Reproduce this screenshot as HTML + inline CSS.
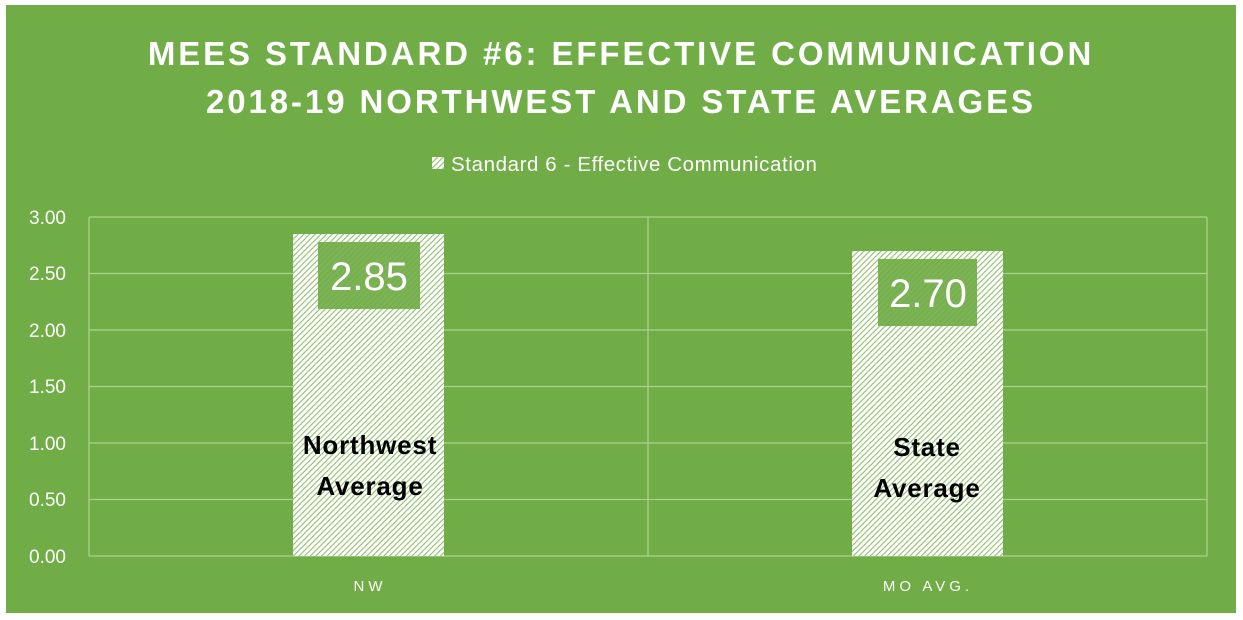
<!DOCTYPE html>
<html><head><meta charset="utf-8"><style>
html,body{margin:0;padding:0;background:#fff;}
svg{display:block;}
text{font-family:"Liberation Sans",sans-serif;}
</style></head><body>
<svg width="1243" height="620" xmlns="http://www.w3.org/2000/svg">
<defs>
<pattern id="h" patternUnits="userSpaceOnUse" width="4" height="4" patternTransform="rotate(45)">
<rect width="4" height="4" fill="#fff"/>
<rect width="1.1" height="4" fill="#8fbf6c"/>
</pattern>
</defs>
<rect x="6" y="5" width="1230" height="608" fill="#70ad47"/>
<text x="621" y="65" text-anchor="middle" fill="#fff" font-size="33" font-weight="bold" letter-spacing="2.9">MEES STANDARD #6: EFFECTIVE COMMUNICATION</text>
<text x="621" y="113" text-anchor="middle" fill="#fff" font-size="33" font-weight="bold" letter-spacing="2.9">2018-19 NORTHWEST AND STATE AVERAGES</text>
<rect x="432" y="157" width="12" height="12" fill="url(#h)"/>
<text x="451" y="171" fill="#fff" font-size="20.5" letter-spacing="0.6">Standard 6 - Effective Communication</text>
<g stroke="#a9d18e" stroke-width="1.3">
<line x1="89" y1="217" x2="1207" y2="217"/>
<line x1="89" y1="273.5" x2="1207" y2="273.5"/>
<line x1="89" y1="330" x2="1207" y2="330"/>
<line x1="89" y1="386.5" x2="1207" y2="386.5"/>
<line x1="89" y1="443" x2="1207" y2="443"/>
<line x1="89" y1="499.5" x2="1207" y2="499.5"/>
<line x1="89" y1="556" x2="1207" y2="556"/>
<line x1="89" y1="217" x2="89" y2="556"/>
<line x1="648" y1="217" x2="648" y2="556"/>
<line x1="1207" y1="217" x2="1207" y2="556"/>
</g>
<g fill="#fff" font-size="19" text-anchor="end">
<text x="66" y="224">3.00</text>
<text x="66" y="280">2.50</text>
<text x="66" y="337">2.00</text>
<text x="66" y="393">1.50</text>
<text x="66" y="450">1.00</text>
<text x="66" y="506">0.50</text>
<text x="66" y="563">0.00</text>
</g>
<rect x="293" y="234" width="151" height="322" fill="url(#h)"/>
<rect x="852" y="251" width="151" height="305" fill="url(#h)"/>
<rect x="318" y="242" width="102" height="67" fill="#70ad47" opacity="0.92"/>
<rect x="878" y="259" width="99" height="67" fill="#70ad47" opacity="0.92"/>
<text x="369" y="290" text-anchor="middle" fill="#fff" font-size="40">2.85</text>
<text x="928" y="307" text-anchor="middle" fill="#fff" font-size="40">2.70</text>
<g font-size="26" font-weight="bold" fill="#000" text-anchor="middle" letter-spacing="0.8">
<text x="370" y="454">Northwest</text>
<text x="370" y="495">Average</text>
<text x="927" y="456">State</text>
<text x="927" y="497">Average</text>
</g>
<g fill="#fff" font-size="15" text-anchor="middle" letter-spacing="4">
<text x="370" y="591">NW</text>
<text x="928" y="591">MO AVG.</text>
</g>
</svg>
</body></html>
